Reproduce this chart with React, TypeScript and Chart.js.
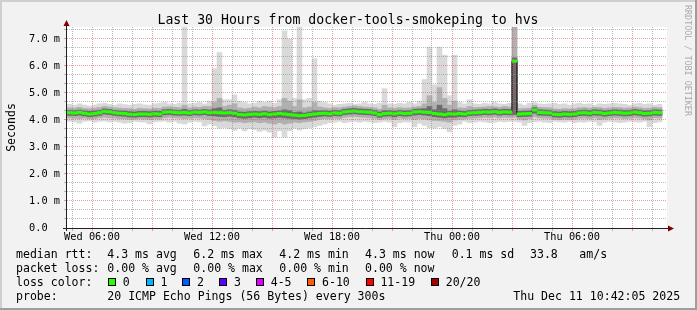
import React, { useEffect, useRef } from 'react';
import { Chart, registerables } from 'chart.js';

Chart.register(...registerables);

// ---------- axes (x in hours since Wed 00:00, y in milliseconds) ----------
const SLOT_START_H = 4.75;
const SLOT_H = 0.25;
const X_MIN_H = 4.75;
const X_MAX_H = 34.75;
const Y_MAX_MS = 7.4444;

const xLabelHours = [6, 12, 18, 24, 30];
const xLabelTexts = ['Wed 06:00', 'Wed 12:00', 'Wed 18:00', 'Thu 00:00', 'Thu 06:00'];
const yLabelValues = [0, 1, 2, 3, 4, 5, 6, 7];
const yLabelTexts = ['0.0  ', '1.0 m', '2.0 m', '3.0 m', '4.0 m', '5.0 m', '6.0 m', '7.0 m'];

// ---------- data: one value per 15-minute slot (ms) ----------
const medianRtt = [
  4.27, 4.26, 4.28, 4.25, 4.22, 4.24, 4.27, 4.32, 4.30, 4.27,
  4.25, 4.24, 4.21, 4.20, 4.22, 4.22, 4.21, 4.23, 4.22, 4.29,
  4.30, 4.28, 4.27, 4.28, 4.26, 4.29, 4.28, 4.30, 4.27, 4.28,
  4.27, 4.26, 4.27, 4.25, 4.20, 4.19, 4.21, 4.22, 4.21, 4.23,
  4.20, 4.22, 4.24, 4.22, 4.20, 4.18, 4.16, 4.17, 4.20, 4.22,
  4.24, 4.25, 4.23, 4.26, 4.25, 4.30, 4.32, 4.33, 4.31, 4.30,
  4.29, 4.26, 4.20, 4.24, 4.25, 4.23, 4.26, 4.24, 4.25, 4.30,
  4.31, 4.29, 4.28, 4.24, 4.22, 4.20, 4.23, 4.22, 4.24, 4.22,
  4.26, 4.27, 4.28, 4.30, 4.29, 4.31, 4.28, 4.30, 4.29, 6.18,
  4.22, 4.23, 4.24, 4.37, 4.28, 4.27, 4.26, 4.21, 4.20, 4.22,
  4.21, 4.22, 4.26, 4.27, 4.25, 4.28, 4.27, 4.24, 4.26, 4.28,
  4.27, 4.25, 4.26, 4.29, 4.27, 4.24, 4.25, 4.28, 4.27, null,
];

const smokeMax = [
  4.58, 4.55, 4.60, 4.55, 4.52, 4.56, 4.60, 4.62, 4.58, 4.55,
  4.60, 4.57, 4.55, 4.58, 4.60, 4.56, 4.55, 4.60, 4.62, 4.65,
  4.60, 4.58, 4.62, 7.44, 4.60, 4.62, 4.65, 4.60, 4.70, 5.90,
  6.50, 4.75, 4.75, 4.93, 4.70, 4.65, 4.60, 4.62, 4.70, 4.65,
  4.70, 4.62, 4.75, 7.30, 7.00, 4.80, 7.44, 4.75, 4.80, 6.27,
  4.70, 4.65, 4.60, 4.55, 4.58, 4.60, 4.62, 4.58, 4.60, 4.65,
  4.60, 4.58, 4.62, 5.16, 4.60, 4.58, 4.62, 4.60, 4.65, 4.60,
  4.70, 5.50, 6.70, 5.30, 6.70, 6.40, 4.90, 6.40, 4.65, 4.60,
  4.75, 4.60, 4.58, 4.62, 4.60, 4.65, 4.60, 4.58, 4.62, 7.44,
  4.60, 4.55, 4.62, 4.65, 4.60, 4.58, 4.60, 4.62, 4.58, 4.60,
  4.55, 4.60, 4.62, 4.58, 4.60, 4.55, 4.60, 4.58, 4.60, 4.62,
  4.60, 4.58, 4.55, 4.60, 4.62, 4.58, 4.60, 4.55, 4.58, null,
];

const smokeMin = [
  3.95, 3.93, 3.88, 3.95, 3.97, 3.92, 3.95, 3.96, 3.93, 3.95,
  3.92, 3.88, 3.90, 3.95, 3.93, 3.92, 3.86, 3.93, 3.95, 3.96,
  3.92, 3.95, 3.88, 3.85, 3.92, 3.95, 3.93, 3.78, 3.85, 3.78,
  3.70, 3.72, 3.68, 3.62, 3.70, 3.60, 3.68, 3.65, 3.58, 3.62,
  3.55, 3.37, 3.60, 3.37, 3.60, 3.70, 3.63, 3.68, 3.72, 3.75,
  3.80, 3.85, 3.90, 3.92, 3.95, 3.90, 3.93, 3.95, 3.92, 3.95,
  3.93, 3.90, 3.92, 3.95, 3.92, 3.75, 3.90, 3.93, 3.92, 3.75,
  3.88, 3.80, 3.72, 3.70, 3.75, 3.68, 3.56, 3.80, 3.85, 3.95,
  3.90, 3.92, 3.95, 3.93, 3.90, 3.92, 3.95, 3.93, 3.95, 3.95,
  3.92, 3.80, 3.90, 3.93, 3.95, 3.92, 3.90, 3.95, 3.93, 3.92,
  3.95, 3.90, 3.93, 3.92, 3.95, 3.93, 3.80, 3.92, 3.95, 3.93,
  3.90, 3.92, 3.95, 3.93, 3.92, 3.95, 3.75, 3.90, 3.93, null,
];

const smokeMidHigh = [
  4.45, 4.44, 4.47, 4.43, 4.42, 4.44, 4.46, 4.50, 4.48, 4.45,
  4.44, 4.43, 4.42, 4.40, 4.43, 4.42, 4.41, 4.44, 4.43, 4.48,
  4.49, 4.47, 4.46, 4.55, 4.45, 4.48, 4.47, 4.50, 4.50, 4.65,
  4.80, 4.50, 4.55, 4.60, 4.45, 4.42, 4.44, 4.48, 4.45, 4.50,
  4.48, 4.46, 4.50, 4.80, 4.70, 4.50, 4.75, 4.45, 4.48, 4.65,
  4.48, 4.45, 4.43, 4.46, 4.45, 4.48, 4.50, 4.52, 4.50, 4.48,
  4.47, 4.45, 4.40, 4.55, 4.45, 4.43, 4.46, 4.44, 4.45, 4.48,
  4.50, 4.60, 4.90, 4.65, 5.20, 4.80, 4.55, 4.70, 4.45, 4.44,
  4.50, 4.46, 4.47, 4.48, 4.50, 4.49, 4.47, 4.50, 4.48, 7.44,
  4.42, 4.43, 4.44, 4.55, 4.47, 4.46, 4.45, 4.41, 4.40, 4.42,
  4.41, 4.42, 4.45, 4.46, 4.44, 4.47, 4.46, 4.43, 4.45, 4.47,
  4.46, 4.44, 4.45, 4.48, 4.46, 4.43, 4.44, 4.47, 4.46, null,
];

const smokeMidLow = [
  4.08, 4.06, 4.05, 4.07, 4.04, 4.05, 4.08, 4.10, 4.08, 4.07,
  4.05, 4.04, 4.02, 4.03, 4.04, 4.03, 4.02, 4.04, 4.03, 4.08,
  4.10, 4.08, 4.07, 4.05, 4.06, 4.08, 4.07, 4.05, 4.02, 3.98,
  3.95, 3.97, 3.95, 3.92, 3.93, 3.90, 3.92, 3.93, 3.90, 3.92,
  3.88, 3.85, 3.90, 3.85, 3.88, 3.92, 3.90, 3.93, 3.95, 3.98,
  4.02, 4.05, 4.04, 4.06, 4.05, 4.10, 4.12, 4.13, 4.11, 4.10,
  4.08, 4.06, 4.02, 4.05, 4.06, 4.02, 4.07, 4.05, 4.06, 4.02,
  4.05, 4.03, 4.00, 3.98, 3.97, 3.95, 3.92, 4.00, 4.02, 4.04,
  4.06, 4.07, 4.08, 4.10, 4.09, 4.11, 4.08, 4.10, 4.09, 4.10,
  4.03, 4.00, 4.05, 4.12, 4.08, 4.07, 4.06, 4.02, 4.01, 4.03,
  4.02, 4.03, 4.06, 4.07, 4.05, 4.08, 4.02, 4.04, 4.06, 4.08,
  4.07, 4.05, 4.06, 4.09, 4.07, 4.04, 4.00, 4.08, 4.07, null,
];

const smokeCoreHigh = [
  4.36, 4.35, 4.37, 4.34, 4.32, 4.34, 4.36, 4.41, 4.39, 4.36,
  4.34, 4.33, 4.31, 4.30, 4.32, 4.32, 4.31, 4.33, 4.32, 4.38,
  4.39, 4.37, 4.36, 4.40, 4.35, 4.38, 4.37, 4.39, 4.37, 4.42,
  4.45, 4.36, 4.38, 4.36, 4.30, 4.29, 4.31, 4.32, 4.31, 4.33,
  4.30, 4.32, 4.34, 4.38, 4.35, 4.28, 4.30, 4.26, 4.30, 4.35,
  4.34, 4.35, 4.33, 4.36, 4.35, 4.40, 4.42, 4.43, 4.41, 4.40,
  4.39, 4.36, 4.30, 4.35, 4.35, 4.33, 4.36, 4.34, 4.35, 4.40,
  4.41, 4.42, 4.50, 4.38, 4.55, 4.42, 4.33, 4.38, 4.34, 4.32,
  4.36, 4.37, 4.38, 4.40, 4.39, 4.41, 4.38, 4.40, 4.39, 6.30,
  4.32, 4.33, 4.34, 4.46, 4.38, 4.37, 4.36, 4.31, 4.30, 4.32,
  4.31, 4.32, 4.36, 4.37, 4.35, 4.38, 4.37, 4.34, 4.36, 4.38,
  4.37, 4.35, 4.36, 4.39, 4.37, 4.34, 4.35, 4.38, 4.37, null,
];

const smokeCoreLow = [
  4.17, 4.16, 4.18, 4.15, 4.12, 4.14, 4.17, 4.22, 4.20, 4.17,
  4.15, 4.14, 4.11, 4.10, 4.12, 4.12, 4.11, 4.13, 4.12, 4.19,
  4.20, 4.18, 4.17, 4.18, 4.16, 4.19, 4.18, 4.20, 4.16, 4.15,
  4.13, 4.12, 4.14, 4.12, 4.08, 4.06, 4.08, 4.10, 4.08, 4.10,
  4.07, 4.08, 4.10, 4.08, 4.06, 4.05, 4.03, 4.05, 4.08, 4.10,
  4.13, 4.15, 4.13, 4.16, 4.15, 4.20, 4.22, 4.23, 4.21, 4.20,
  4.19, 4.16, 4.10, 4.14, 4.15, 4.12, 4.16, 4.14, 4.15, 4.18,
  4.20, 4.18, 4.16, 4.12, 4.10, 4.08, 4.10, 4.10, 4.13, 4.12,
  4.16, 4.17, 4.18, 4.20, 4.19, 4.21, 4.18, 4.20, 4.19, 4.20,
  4.12, 4.13, 4.14, 4.25, 4.18, 4.17, 4.16, 4.11, 4.10, 4.12,
  4.11, 4.12, 4.16, 4.17, 4.15, 4.18, 4.17, 4.14, 4.16, 4.18,
  4.17, 4.15, 4.16, 4.19, 4.17, 4.14, 4.15, 4.18, 4.17, null,
];

const lossLabels = ['0', '1', '2', '3', '4-5', '6-10', '11-19', '20/20'];
const lossColors = ['#26ff00', '#00b8ff', '#0059ff', '#5e00ff', '#dd00ff', '#ff5e00', '#ff0000', '#a10000'];

const statLines = [
  ['median rtt:', '4.3 ms avg', '6.2 ms max', '4.2 ms min', '4.3 ms now', '0.1 ms sd', '33.8', 'am/s'],
  ['packet loss:', '0.00 % avg', '0.00 % max', '0.00 % min', '0.00 % now'],
];
const probeText = ['probe:', '20 ICMP Echo Pings (56 Bytes) every 300s', 'Thu Dec 11 10:42:05 2025'];
const titleText = 'Last 30 Hours from docker-tools-smokeping to hvs';

// ---------- styling ----------
const MONO = '"DejaVu Sans Mono", monospace';
const GRID_MINOR = 'rgba(143,143,143,0.62)';
const GRID_MAJOR = 'rgba(222,79,79,0.55)';

const rrdPlugin = {
  id: 'rrdLook',
  beforeDraw(chart: any) {
    const { ctx, chartArea: a, width, height } = chart;
    ctx.save();
    ctx.fillStyle = '#f2f2f2';
    ctx.fillRect(0, 0, width, height);
    ctx.fillStyle = '#cfcfcf';
    ctx.fillRect(0, 0, width, 2);
    ctx.fillRect(0, 0, 2, height);
    ctx.fillStyle = '#9e9e9e';
    ctx.fillRect(0, height - 2, width, 2);
    ctx.fillRect(width - 2, 0, 2, height);
    ctx.fillStyle = '#ffffff';
    ctx.fillRect(a.left, a.top, a.right - a.left, a.bottom - a.top);
    ctx.restore();
  },
  afterDraw(chart: any) {
    const { ctx, chartArea: a } = chart;
    ctx.save();
    // axes
    ctx.strokeStyle = '#212121';
    ctx.lineWidth = 1;
    ctx.beginPath();
    ctx.moveTo(a.left - 0.5, a.bottom + 3);
    ctx.lineTo(a.left - 0.5, a.top - 1);
    ctx.moveTo(a.left - 4, a.bottom + 0.5);
    ctx.lineTo(a.right + 1, a.bottom + 0.5);
    ctx.stroke();
    ctx.fillStyle = '#800000';
    ctx.beginPath();
    ctx.moveTo(a.left - 3.5, a.top - 1);
    ctx.lineTo(a.left + 2.5, a.top - 1);
    ctx.lineTo(a.left - 0.5, a.top - 7);
    ctx.closePath();
    ctx.fill();
    ctx.beginPath();
    ctx.moveTo(a.right + 1, a.bottom - 2.5);
    ctx.lineTo(a.right + 1, a.bottom + 3.5);
    ctx.lineTo(a.right + 7, a.bottom + 0.5);
    ctx.closePath();
    ctx.fill();

    // title
    ctx.fillStyle = '#000';
    ctx.textBaseline = 'alphabetic';
    ctx.textAlign = 'center';
    ctx.font = `13.2px ${MONO}`;
    ctx.fillText(titleText, 348, 24);

    // y axis title
    ctx.font = `11.55px ${MONO}`;
    ctx.save();
    ctx.translate(15, (a.top + a.bottom) / 2);
    ctx.rotate(-Math.PI / 2);
    ctx.textAlign = 'center';
    ctx.fillText('Seconds', 0, 0);
    ctx.restore();

    // watermark
    ctx.save();
    ctx.fillStyle = '#ababab';
    ctx.font = `8.4px ${MONO}`;
    ctx.translate(684.5, 5);
    ctx.rotate(Math.PI / 2);
    ctx.textAlign = 'left';
    ctx.fillText('RRDTOOL / TOBI OETIKER', 0, 0);
    ctx.restore();

    // legend
    ctx.textAlign = 'left';
    ctx.font = `11.55px ${MONO}`;
    const colX = [16, 107.3, 193.3, 279.3, 365, 451.7, 530, 579.3];
    const rowY = [258.3, 272.1, 285.9, 299.7];
    statLines.forEach((line, r) => {
      line.forEach((t, c) => ctx.fillText(t, colX[c], rowY[r]));
    });
    ctx.fillText('loss color:', 16, rowY[2]);
    const boxX = [108, 145.7, 182.3, 219.3, 256, 307.3, 365.7, 431];
    lossLabels.forEach((lab, k) => {
      const bx = Math.round(boxX[k]);
      ctx.fillStyle = '#000';
      ctx.fillRect(bx, 278, 8, 8);
      ctx.fillStyle = lossColors[k];
      ctx.fillRect(bx + 1, 279, 6, 6);
      ctx.fillStyle = '#000';
      ctx.fillText(lab, boxX[k] + 14.7, rowY[2]);
    });
    ctx.fillText(probeText[0], 16, rowY[3]);
    ctx.fillText(probeText[1], 107.3, rowY[3]);
    ctx.fillText(probeText[2], 513.3, rowY[3]);
    ctx.restore();
  },
};

export default function App() {
  const ref = useRef<HTMLCanvasElement>(null);

  useEffect(() => {
    const canvas = ref.current;
    if (!canvas) return;
    const slotX = (i: number) => SLOT_START_H + SLOT_H * (i + 0.5);
    const band = (lo: (number | null)[], hi: (number | null)[]) =>
      lo.map((v, i) => ({ x: slotX(i), y: v == null || hi[i] == null ? null : [v, hi[i]] }));
    const medianMarks = medianRtt.map((m, i) => ({ x: slotX(i), y: m == null ? null : [m - 0.045, m + 0.045] }));
    const medianLine = medianRtt.map((m, i) => ({ x: slotX(i), y: m }));

    const barBase = {
      type: 'bar',
      grouped: false,
      barPercentage: 1,
      categoryPercentage: 1,
      borderWidth: 0,
    };

    const hourTicks: number[] = [];
    for (let h = 5; h <= 34; h++) hourTicks.push(h);
    const thirdTicks: number[] = [];
    for (let k = 0; k <= 22; k++) thirdTicks.push(k / 3);

    const isInt = (v: number) => Math.abs(v - Math.round(v)) < 1e-6;

    const chart = new Chart(canvas, {
      type: 'bar',
      data: {
        datasets: [
          { ...barBase, label: 'median (loss 0)', data: medianMarks, backgroundColor: lossColors[0], order: 0 },
          {
            type: 'line', label: 'median', data: medianLine, borderColor: '#000000', borderWidth: 1,
            pointRadius: 0, stepped: 'middle', spanGaps: false, order: 1,
          },
          { ...barBase, label: 'smoke core', data: band(smokeCoreLow, smokeCoreHigh), backgroundColor: '#6c6c6c', order: 2 },
          { ...barBase, label: 'smoke mid', data: band(smokeMidLow, smokeMidHigh), backgroundColor: '#b0b0b0', order: 3 },
          { ...barBase, label: 'smoke outer', data: band(smokeMin, smokeMax), backgroundColor: '#d9d9d9', order: 4 },
        ] as any,
      },
      options: {
        responsive: false,
        maintainAspectRatio: false,
        animation: false,
        devicePixelRatio: 1,
        events: [],
        layout: { padding: { left: 0, right: 30, top: 27, bottom: 0 } },
        plugins: { legend: { display: false }, tooltip: { enabled: false }, title: { display: false } },
        scales: {
          x: {
            type: 'linear',
            min: X_MIN_H,
            max: X_MAX_H,
            offset: false,
            afterBuildTicks: (s: any) => { s.ticks = hourTicks.map((v) => ({ value: v })); },
            afterFit: (s: any) => { s.height = 82; },
            grid: {
              offset: false,
              z: 1,
              lineWidth: 1,
              drawTicks: true,
              tickLength: 3,
              color: (c: any) => (c.tick && c.tick.value % 3 === 0 ? GRID_MAJOR : GRID_MINOR),
              tickColor: (c: any) => (c.tick && c.tick.value % 3 === 0 ? GRID_MAJOR : GRID_MINOR),
            },
            border: { display: false, dash: [1, 1] },
            ticks: {
              autoSkip: false,
              maxRotation: 0,
              minRotation: 0,
              padding: 0,
              color: '#000',
              font: { family: MONO, size: 10.3 },
              callback: (v: any) => {
                const k = xLabelHours.indexOf(Number(v));
                return k >= 0 ? xLabelTexts[k] : '';
              },
            },
          },
          y: {
            type: 'linear',
            min: 0,
            max: Y_MAX_MS,
            afterBuildTicks: (s: any) => { s.ticks = thirdTicks.map((v) => ({ value: v })); },
            afterFit: (s: any) => { s.width = 67; },
            grid: {
              z: 1,
              lineWidth: 1,
              drawTicks: true,
              tickLength: 3,
              color: (c: any) => (c.tick && isInt(c.tick.value) ? GRID_MAJOR : GRID_MINOR),
              tickColor: (c: any) => (c.tick && isInt(c.tick.value) ? GRID_MAJOR : GRID_MINOR),
            },
            border: { display: false, dash: [1, 1] },
            ticks: {
              autoSkip: false,
              padding: 4,
              color: '#000',
              font: { family: MONO, size: 10.3 },
              callback: (v: any) => {
                const n = Number(v);
                if (!isInt(n)) return '';
                const k = yLabelValues.indexOf(Math.round(n));
                return k >= 0 ? yLabelTexts[k] : '';
              },
            },
          },
        },
      } as any,
      plugins: [rrdPlugin as any],
    });
    return () => chart.destroy();
  }, []);

  return (
    <div style={{ position: 'fixed', left: 0, top: 0, width: 697, height: 310, margin: 0 }}>
      <canvas ref={ref} width={697} height={310} style={{ display: 'block', width: 697, height: 310 }} />
    </div>
  );
}
